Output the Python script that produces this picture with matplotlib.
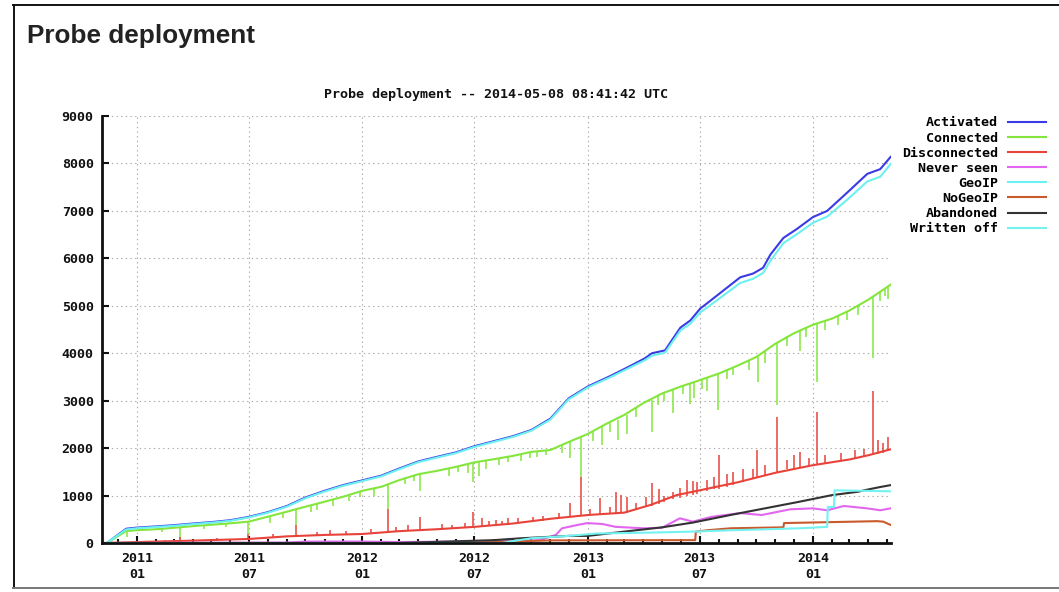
import matplotlib
matplotlib.use("Agg")
import matplotlib.pyplot as plt
import matplotlib.dates as mdates
import pandas as pd
from matplotlib.lines import Line2D

# ---------------- data ----------------
chart_title = "Probe deployment -- 2014-05-08 08:41:42 UTC"
page_heading = "Probe deployment"

series_labels = ["Activated", "Connected", "Disconnected", "Never seen",
                 "GeoIP", "NoGeoIP", "Abandoned", "Written off"]

activated_dates = ["2010-11-13", "2010-12-14", "2011-01-01", "2011-02-01", "2011-03-01",
                   "2011-04-01", "2011-05-01", "2011-06-01", "2011-07-01", "2011-08-01",
                   "2011-09-01", "2011-10-01", "2011-11-01", "2011-12-01", "2012-01-01",
                   "2012-02-01", "2012-03-01", "2012-04-01", "2012-05-01", "2012-06-01",
                   "2012-07-01", "2012-08-01", "2012-09-01", "2012-10-01", "2012-11-01",
                   "2012-12-01", "2013-01-01", "2013-02-08", "2013-03-12", "2013-04-03",
                   "2013-04-15", "2013-05-06", "2013-05-31", "2013-06-16", "2013-07-02",
                   "2013-07-13", "2013-09-05", "2013-09-26", "2013-10-12", "2013-10-24",
                   "2013-11-14", "2013-12-06", "2014-01-01", "2014-01-24", "2014-02-25",
                   "2014-03-30", "2014-04-20", "2014-05-07"]
activated_values = [0, 300, 325, 350, 375, 410, 440, 480, 550, 650,
                    780, 960, 1100, 1220, 1320, 1420, 1570, 1720, 1815, 1910,
                    2040, 2145, 2250, 2380, 2620, 3050, 3300, 3530, 3740, 3890,
                    4000, 4060, 4540, 4690, 4940, 5050, 5600, 5680, 5800, 6080,
                    6430, 6620, 6870, 7000, 7380, 7780, 7880, 8140]

geoip_dates = activated_dates
geoip_values = [0, 285, 312, 338, 362, 398, 428, 468, 538, 638,
                766, 945, 1085, 1205, 1305, 1405, 1555, 1705, 1800, 1895,
                2025, 2130, 2235, 2365, 2600, 3030, 3280, 3505, 3710, 3850,
                3950, 4010, 4480, 4620, 4860, 4960, 5480, 5570, 5690, 5950,
                6320, 6510, 6750, 6880, 7230, 7620, 7720, 7990]

connected_dates = ["2010-11-13", "2010-12-14", "2011-01-01", "2011-02-01", "2011-03-01",
                   "2011-04-01", "2011-05-01", "2011-06-01", "2011-07-01", "2011-08-01",
                   "2011-09-01", "2011-10-01", "2011-11-01", "2011-12-01", "2012-01-01",
                   "2012-02-01", "2012-03-01", "2012-04-01", "2012-05-01", "2012-06-01",
                   "2012-07-01", "2012-08-01", "2012-09-01", "2012-10-01", "2012-11-01",
                   "2012-12-01", "2013-01-01", "2013-02-01", "2013-03-01", "2013-04-01",
                   "2013-05-01", "2013-06-01", "2013-07-01", "2013-08-01", "2013-09-01",
                   "2013-10-01", "2013-11-01", "2013-12-01", "2014-01-01", "2014-02-01",
                   "2014-03-01", "2014-04-01", "2014-05-07"]
connected_values = [0, 250, 270, 290, 320, 355, 385, 415, 450, 555,
                    660, 765, 870, 975, 1100, 1185, 1325, 1450, 1520, 1605,
                    1700, 1765, 1835, 1920, 1960, 2130, 2300, 2520, 2700, 2950,
                    3150, 3300, 3430, 3570, 3740, 3920, 4200, 4420, 4600, 4730,
                    4900, 5130, 5445]

# dips of the Connected curve: date, level before the dip, bottom of the dip
connected_dip_dates = ["2010-12-16", "2011-02-10", "2011-03-12", "2011-04-20", "2011-05-25",
                       "2011-06-30", "2011-08-05", "2011-08-25", "2011-09-16", "2011-10-10",
                       "2011-10-20", "2011-11-15", "2011-12-10", "2011-12-28", "2012-01-20",
                       "2012-02-12", "2012-03-10", "2012-03-25", "2012-04-04", "2012-05-20",
                       "2012-06-05", "2012-06-20", "2012-06-29", "2012-07-08", "2012-07-20",
                       "2012-08-10", "2012-08-25", "2012-09-15", "2012-09-29", "2012-10-10",
                       "2012-10-25", "2012-11-20", "2012-12-03", "2012-12-21", "2013-01-10",
                       "2013-01-24", "2013-02-05", "2013-02-19", "2013-03-05", "2013-03-20",
                       "2013-04-15", "2013-04-25", "2013-05-05", "2013-05-19", "2013-06-05",
                       "2013-06-16", "2013-06-22", "2013-07-05", "2013-07-13", "2013-07-31",
                       "2013-08-15", "2013-08-25", "2013-09-20", "2013-10-04", "2013-10-15",
                       "2013-11-04", "2013-11-20", "2013-12-11", "2013-12-20", "2014-01-07",
                       "2014-01-20", "2014-02-10", "2014-02-25", "2014-03-15", "2014-04-08",
                       "2014-04-20", "2014-04-28", "2014-05-03"]
connected_dip_from = [250, 295, 330, 370, 410, 450, 560, 640, 700, 800,
                      830, 920, 1010, 1080, 1150, 1230, 1360, 1420, 1460, 1560,
                      1620, 1660, 1700, 1710, 1740, 1790, 1820, 1870, 1920, 1930,
                      1950, 2060, 2130, 2250, 2360, 2450, 2540, 2600, 2700, 2850,
                      3020, 3100, 3170, 3250, 3320, 3380, 3400, 3460, 3500, 3570,
                      3660, 3700, 3850, 3930, 4050, 4220, 4370, 4480, 4560, 4620,
                      4680, 4780, 4870, 5000, 5180, 5300, 5360, 5400]
connected_dip_to = [120, 230, 80, 300, 330, 180, 430, 520, 380, 650,
                    700, 780, 880, 960, 1000, 720, 1240, 1300, 1100, 1420,
                    1500, 1470, 1290, 1420, 1560, 1640, 1700, 1720, 1800, 1810,
                    1850, 1900, 1790, 1400, 2150, 2060, 2350, 2170, 2300, 2650,
                    2340, 2900, 3000, 2730, 3150, 2940, 3050, 3250, 3200, 2800,
                    3450, 3550, 3650, 3390, 3800, 2900, 4150, 4050, 4350, 3390,
                    4500, 4600, 4700, 4800, 3900, 5100, 5200, 5150]

disconnected_dates = ["2010-11-13", "2011-01-01", "2011-04-01", "2011-07-01", "2011-09-01",
                      "2011-11-01", "2012-01-01", "2012-03-01", "2012-05-01", "2012-07-01",
                      "2012-09-01", "2012-11-01", "2013-01-01", "2013-03-01", "2013-04-12",
                      "2013-05-25", "2013-07-01", "2013-09-01", "2013-11-01", "2014-01-01",
                      "2014-03-01", "2014-04-01", "2014-05-07"]
disconnected_values = [0, 20, 50, 85, 140, 170, 190, 250, 290, 340,
                       410, 510, 590, 640, 800, 1010, 1110, 1280, 1480, 1640,
                       1760, 1850, 1975]

# spikes of the Disconnected curve: date, level before the spike, top of the spike
disconnected_spike_dates = ["2011-02-15", "2011-03-12", "2011-05-10", "2011-06-30", "2011-08-10",
                            "2011-09-16", "2011-10-20", "2011-11-10", "2011-12-05", "2012-01-15",
                            "2012-02-12", "2012-02-25", "2012-03-15", "2012-04-04", "2012-05-10",
                            "2012-05-25", "2012-06-15", "2012-06-29", "2012-07-13", "2012-07-25",
                            "2012-08-05", "2012-08-15", "2012-08-24", "2012-09-10", "2012-10-04",
                            "2012-10-20", "2012-11-15", "2012-12-03", "2012-12-21", "2013-01-05",
                            "2013-01-20", "2013-02-05", "2013-02-16", "2013-02-24", "2013-03-05",
                            "2013-03-20", "2013-04-05", "2013-04-15", "2013-04-26", "2013-05-05",
                            "2013-05-19", "2013-05-30", "2013-06-11", "2013-06-21", "2013-06-27",
                            "2013-07-13", "2013-07-25", "2013-08-01", "2013-08-15", "2013-08-25",
                            "2013-09-10", "2013-09-25", "2013-10-03", "2013-10-15", "2013-11-04",
                            "2013-11-20", "2013-12-01", "2013-12-11", "2013-12-25", "2014-01-08",
                            "2014-01-20", "2014-02-15", "2014-03-10", "2014-03-25", "2014-04-08",
                            "2014-04-16", "2014-04-25", "2014-05-03"]
disconnected_spike_from = [30, 40, 60, 85, 110, 150, 160, 170, 180, 200,
                           240, 245, 260, 280, 295, 310, 330, 340, 350, 360,
                           380, 390, 400, 420, 440, 470, 520, 540, 570, 590,
                           600, 610, 620, 630, 640, 700, 760, 780, 820, 870,
                           920, 950, 990, 1020, 1040, 1090, 1130, 1140, 1190, 1220,
                           1290, 1340, 1400, 1420, 1500, 1550, 1570, 1590, 1620, 1660,
                           1690, 1740, 1790, 1830, 1870, 1880, 1900, 1950]
disconnected_spike_to = [70, 130, 110, 180, 180, 380, 230, 280, 260, 290,
                         720, 340, 380, 550, 400, 380, 430, 660, 520, 470,
                         480, 470, 520, 520, 540, 560, 640, 850, 1400, 720,
                         940, 760, 1080, 1010, 980, 850, 980, 1260, 1130, 1000,
                         1080, 1150, 1320, 1300, 1280, 1330, 1400, 1850, 1450, 1500,
                         1550, 1560, 1960, 1650, 2650, 1750, 1850, 1920, 1800, 2760,
                         1850, 1900, 1950, 1980, 3210, 2170, 2100, 2230]

never_seen_dates = ["2010-11-13", "2011-09-01", "2011-10-01", "2012-01-01", "2012-03-01",
                    "2012-06-01", "2012-09-01", "2012-10-15", "2012-11-10", "2012-11-20",
                    "2012-12-15", "2012-12-31", "2013-01-25", "2013-02-15", "2013-04-01",
                    "2013-05-01", "2013-05-30", "2013-06-20", "2013-07-20", "2013-09-05",
                    "2013-10-10", "2013-11-25", "2014-01-01", "2014-01-24", "2014-02-20",
                    "2014-03-30", "2014-04-20", "2014-05-07"]
never_seen_values = [0, 10, 30, 30, 20, 30, 40, 60, 170, 310,
                     380, 420, 400, 340, 310, 320, 520, 450, 550, 630,
                     590, 710, 730, 690, 780, 730, 690, 730]

nogeoip_dates = ["2010-11-13", "2012-06-01", "2012-09-01", "2012-11-01", "2013-06-24",
                 "2013-06-25", "2013-07-15", "2013-08-20", "2013-11-14", "2013-11-15",
                 "2014-04-15", "2014-04-25", "2014-05-07"]
nogeoip_values = [0, 0, 30, 55, 60, 240, 270, 310, 330, 420, 460, 450, 380]

abandoned_dates = ["2010-11-13", "2012-03-01", "2012-08-01", "2012-09-15", "2012-12-01",
                   "2013-01-01", "2013-03-01", "2013-05-01", "2013-06-20", "2013-08-20",
                   "2013-10-15", "2013-12-10", "2014-02-01", "2014-03-15", "2014-04-01",
                   "2014-04-20", "2014-05-07"]
abandoned_values = [0, 0, 60, 100, 150, 150, 240, 330, 430, 590,
                    730, 870, 1010, 1080, 1130, 1180, 1220]

written_off_dates = ["2010-11-13", "2012-08-15", "2012-09-01", "2012-10-01", "2012-12-01",
                     "2013-01-15", "2013-04-15", "2013-06-20", "2013-08-25", "2013-10-20",
                     "2013-12-10", "2014-01-24", "2014-01-25", "2014-02-04", "2014-02-05",
                     "2014-05-07"]
written_off_values = [0, 0, 40, 100, 150, 200, 220, 240, 270, 290,
                      310, 340, 760, 760, 1110, 1090]

x_tick_dates = ["2011-01-01", "2011-07-01", "2012-01-01", "2012-07-01",
                "2013-01-01", "2013-07-01", "2014-01-01"]
x_tick_labels = ["2011\n01", "2011\n07", "2012\n01", "2012\n07",
                 "2013\n01", "2013\n07", "2014\n01"]
y_ticks = [0, 1000, 2000, 3000, 4000, 5000, 6000, 7000, 8000, 9000]
x_range = ["2010-11-05 00:00", "2014-05-07 12:00"]

# ---------------- styling ----------------
colors = {
    "Activated": "#3a3ae6",
    "Connected": "#84e63c",
    "Disconnected": "#e8433a",
    "Never seen": "#e266f0",
    "GeoIP": "#6cf0f0",
    "NoGeoIP": "#c85a2c",
    "Abandoned": "#333333",
    "Written off": "#74f2f2",
}
MONO = "DejaVu Sans Mono"
FS = 9.6
LW = 1.5
LW_SPIKE = 1.1

W, H = 1059, 592
def fx(px):
    return px / W
def fy(py):
    return 1 - py / H

def d(lst):
    return pd.to_datetime(lst, format="mixed")

fig = plt.figure(figsize=(W / 100, H / 100), dpi=100)
fig.patch.set_facecolor("white")

# page frame of the screenshot
fig.add_artist(Line2D([fx(13.5), fx(13.5)], [fy(4.5), fy(587.5)], color="#111111", lw=1.4))
fig.add_artist(Line2D([fx(13), 1], [fy(4.5), fy(4.5)], color="#111111", lw=1.4))
fig.add_artist(Line2D([fx(13), 1], [fy(587.5), fy(587.5)], color="#777777", lw=1.4))

fig.text(fx(27), fy(43.5), page_heading, fontsize=18.8, fontweight="bold",
         family="Liberation Sans", color="#222222", va="baseline", ha="left")

ax = fig.add_axes([fx(102), fy(543), fx(891) - fx(102), (543 - 116) / H])

handles = {}
handles["Activated"], = ax.plot(d(activated_dates), activated_values,
                                color=colors["Activated"], lw=LW)
handles["Connected"], = ax.plot(d(connected_dates), connected_values,
                                color=colors["Connected"], lw=LW)
ax.vlines(d(connected_dip_dates), connected_dip_to, connected_dip_from,
          color=colors["Connected"], lw=LW_SPIKE)
handles["Disconnected"], = ax.plot(d(disconnected_dates), disconnected_values,
                                   color=colors["Disconnected"], lw=LW)
ax.vlines(d(disconnected_spike_dates), disconnected_spike_from, disconnected_spike_to,
          color=colors["Disconnected"], lw=LW_SPIKE)
handles["Never seen"], = ax.plot(d(never_seen_dates), never_seen_values,
                                 color=colors["Never seen"], lw=LW)
handles["GeoIP"], = ax.plot(d(geoip_dates), geoip_values, color=colors["GeoIP"], lw=LW)
handles["NoGeoIP"], = ax.plot(d(nogeoip_dates), nogeoip_values,
                              color=colors["NoGeoIP"], lw=LW)
handles["Abandoned"], = ax.plot(d(abandoned_dates), abandoned_values,
                                color=colors["Abandoned"], lw=LW)
handles["Written off"], = ax.plot(d(written_off_dates), written_off_values,
                                  color=colors["Written off"], lw=LW)

ax.set_xlim(d(x_range))
ax.set_ylim(0, 9000)

ax.set_xticks(d(x_tick_dates))
ax.set_xticklabels(x_tick_labels)
ax.xaxis.set_minor_locator(mdates.MonthLocator())
ax.set_yticks(y_ticks)
ax.set_yticklabels([str(v) for v in y_ticks])

for lab in ax.get_xticklabels() + ax.get_yticklabels():
    lab.set_family(MONO)
    lab.set_fontweight("bold")
    lab.set_fontsize(FS)
    lab.set_color("#111111")
    lab.set_linespacing(1.25)

ax.tick_params(axis="both", which="major", direction="in", length=5, width=1.5,
               color="#111111")
ax.tick_params(axis="x", which="minor", direction="in", length=3, width=1.5,
               color="#111111")
ax.tick_params(axis="x", which="major", pad=6.5)
ax.tick_params(axis="y", which="major", pad=6)

for side in ["top", "right"]:
    ax.spines[side].set_visible(False)
for side in ["left", "bottom"]:
    ax.spines[side].set_linewidth(2.0)
    ax.spines[side].set_color("#111111")

ax.grid(True, which="major", color="#a8a8a8", lw=0.8, linestyle=(0, (1.2, 3.0)))
ax.set_axisbelow(True)

ax.set_title(chart_title, family=MONO, fontweight="bold", fontsize=FS, pad=13,
             color="#111111")

ax.legend([handles[k] for k in series_labels], series_labels,
          loc="upper right", bbox_to_anchor=(fx(1046), fy(116.5)),
          bbox_transform=fig.transFigure, markerfirst=False, frameon=False,
          prop={"family": MONO, "weight": "bold", "size": FS},
          handlelength=2.85, handletextpad=0.75, labelspacing=0.16,
          borderpad=0, borderaxespad=0)

fig.savefig("out.png", dpi=100, facecolor="white")
